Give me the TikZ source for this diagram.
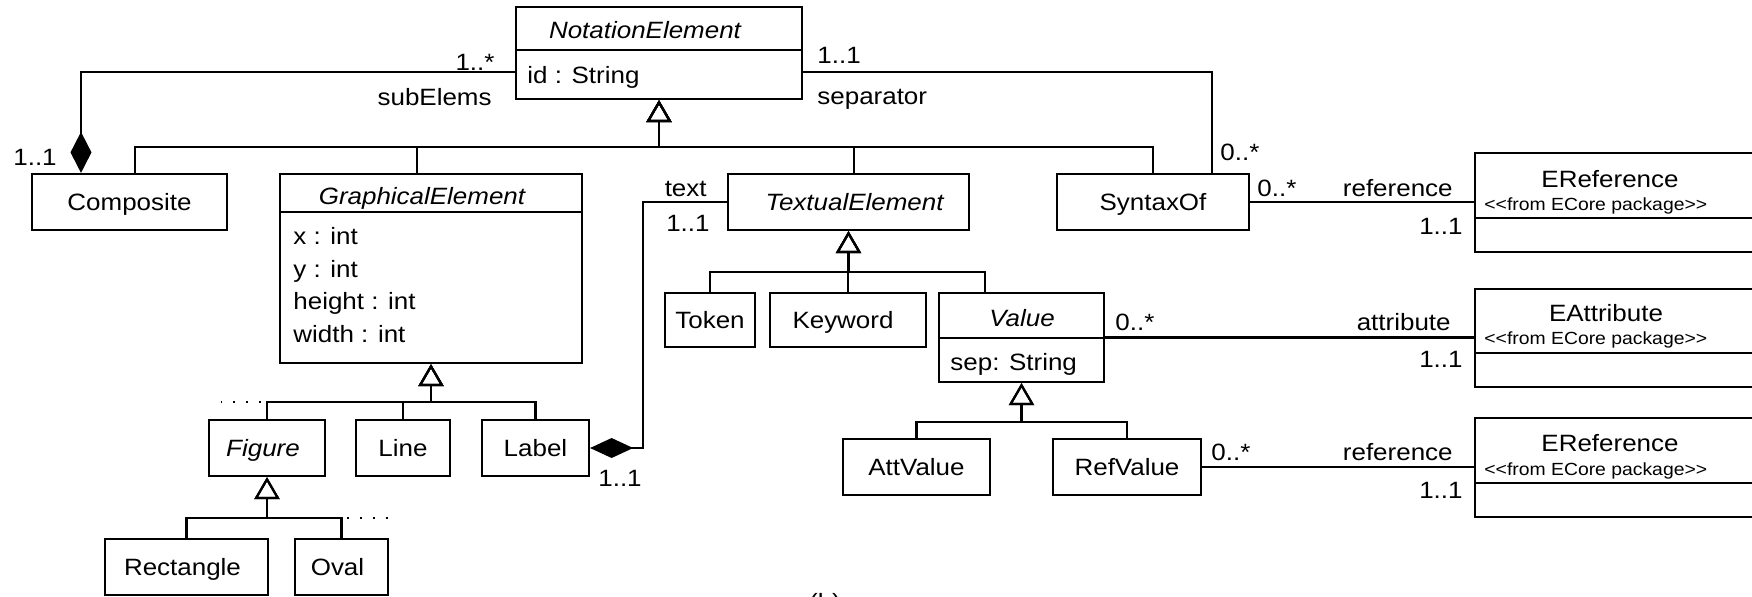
\documentclass[tikz,border=0pt]{standalone}
\usepackage{fontspec}
\setmainfont{Liberation Sans}[FakeStretch=1.1]
\usetikzlibrary{arrows.meta,fit}
\tikzset{
  t/.style={inner sep=0pt, text height=8.45pt, text depth=0pt, font=\fontsize{11.8}{14}\selectfont},
  ti/.style={t, font=\fontsize{11.8}{14}\selectfont\itshape},
  st/.style={inner sep=0pt, text height=6.3pt, text depth=0pt, font=\fontsize{8.8}{10}\selectfont},
  cls/.style={draw, line width=1.1pt, inner sep=0pt, fill=white},
  edge/.style={draw, line width=1.1pt, line join=miter},
  gen/.style={edge, -{Triangle[open, length=11pt, width=12.5pt]}},
  comp/.style={edge, {Diamond[length=20.5pt, width=10.5pt]}-},
  dotrow/.style={line width=1.1pt, dash pattern=on 1.1pt off 5.4pt},
}
\begin{document}
\begin{tikzpicture}[x=0.5pt,y=-0.5pt]
\useasboundingbox (0,0) rectangle (1752,596);
\clip (0,0) rectangle (1752,596);

% ---------- classes ----------
\node[cls, fit={(516,7)(802,99)}] (notation) {};
\draw[edge] (516,50) -- (802,50);
\node[ti] (notationT) at (645,30) {NotationElement};
\node[t, anchor=west] (notationA) at (527,75) {id : String};

\node[cls, fit={(32,174)(227,230)}] (composite) {};
\node[t] (compositeT) at (composite.center) {Composite};

\node[cls, fit={(280,174)(582,363)}] (graphical) {};
\draw[edge] (280,212) -- (582,212);
\node[ti] (graphicalT) at (422,196) {GraphicalElement};
\node[t, anchor=west] (ga1) at (293,236) {x : int};
\node[t, anchor=west] (ga2) at (293,269) {y : int};
\node[t, anchor=west] (ga3) at (293,301) {height : int};
\node[t, anchor=west] (ga4) at (293,334) {width : int};

\node[cls, fit={(728,174)(969,230)}] (textual) {};
\node[ti] (textualT) at ([xshift=3pt]textual.center) {TextualElement};
\node[cls, fit={(1057,174)(1249,230)}] (syntaxof) {};
\node[t] (syntaxofT) at (syntaxof.center) {SyntaxOf};

\node[cls, fit={(1475,153)(1760,252)}] (erefA) {};
\draw[edge] (1475,218) -- (1760,218);
\node[t] (erefAT) at (1610,179) {EReference};
\node[st, anchor=west] (erefAS) at (1484,204) {<\kern0pt<from ECore package>\kern0pt>};

\node[cls, fit={(665,293)(755,347)}] (token) {};
\node[t] (tokenT) at (token.center) {Token};
\node[cls, fit={(770,293)(926,347)}] (keyword) {};
\node[t] (keywordT) at ([xshift=-2.5pt]keyword.center) {Keyword};

\node[cls, fit={(939,293)(1104,382)}] (value) {};
\draw[edge] (939,338) -- (1104,338);
\node[ti] (valueT) at (1022,318) {Value};
\node[t, anchor=west] (valueA) at (950,362) {sep: String};

\node[cls, fit={(1475,289)(1760,387)}] (eattr) {};
\draw[edge] (1475,353) -- (1760,353);
\node[t] (eattrT) at (1606,313) {EAttribute};
\node[st, anchor=west] (eattrS) at (1484,338) {<\kern0pt<from ECore package>\kern0pt>};

\node[cls, fit={(209,420)(325,476)}] (figure) {};
\node[ti] (figureT) at ([xshift=-2pt]figure.center) {Figure};
\node[cls, fit={(356,420)(450,476)}] (line) {};
\node[t] (lineT) at (line.center) {Line};
\node[cls, fit={(482,420)(589,476)}] (label) {};
\node[t] (labelT) at (label.center) {Label};

\node[cls, fit={(843,439)(990,495)}] (attvalue) {};
\node[t] (attvalueT) at (attvalue.center) {AttValue};
\node[cls, fit={(1053,439)(1201,495)}] (refvalue) {};
\node[t] (refvalueT) at (refvalue.center) {RefValue};

\node[cls, fit={(1475,418)(1760,517)}] (erefB) {};
\draw[edge] (1475,483) -- (1760,483);
\node[t] (erefBT) at (1610,443) {EReference};
\node[st, anchor=west] (erefBS) at (1484,469) {<\kern0pt<from ECore package>\kern0pt>};

\node[cls, fit={(105,539)(268,595)}] (rectangle) {};
\node[t] (rectangleT) at ([xshift=-2pt]rectangle.center) {Rectangle};
\node[cls, fit={(295,539)(388,595)}] (oval) {};
\node[t] (ovalT) at ([xshift=-2pt]oval.center) {Oval};

\node[t, anchor=north] (caption) at (825,593) {(b)};

% ---------- generalizations ----------
\draw[gen] ([xshift=2.75pt]composite.north) -- ++(0,-26) -| (notation.south);
\draw[gen] ([xshift=-7pt]graphical.north) -- ++(0,-26) -| (notation.south);
\draw[gen] ([xshift=2.75pt]textual.north) -- ++(0,-26) -| (notation.south);
\draw[gen] (syntaxof.north) -- ++(0,-26) -| (notation.south);

\draw[gen] (token.north) -- ++(0,-20) -| (textual.south);
\draw[gen] (keyword.north) -- ++(0,-20) -| (textual.south);
\draw[gen] ([xshift=-18.25pt]value.north) -- ++(0,-20) -| (textual.south);

\draw[gen] (figure.north) -- ++(0,-17) -| (graphical.south);
\draw[gen] (line.north) -- ++(0,-17) -| (graphical.south);
\draw[gen] (label.north) -- ++(0,-17) -| (graphical.south);
\draw[dotrow] ([xshift=-3pt,yshift=8.5pt]figure.north) -- ++(-40,0);

\draw[gen] (rectangle.north) -- ++(0,-20) -| (figure.south);
\draw[gen] (oval.north) -- ++(0,-20) -| (figure.south);
\draw[dotrow] ([xshift=2.5pt,yshift=10pt]oval.north) -- ++(42,0);

\draw[gen] (attvalue.north) -- ++(0,-16) -| (value.south);
\draw[gen] (refvalue.north) -- ++(0,-16) -| (value.south);

% ---------- associations ----------
\draw[comp] ([xshift=-24.25pt]composite.north) |- ([yshift=-9.5pt]notation.west);
\node[t] (m1) at (475,62) {1..*};
\node[t, anchor=east] (r1) at (492,97) {subElems};
\node[t] (m2) at (35,157) {1..1};

\draw[edge] ([yshift=-9.5pt]notation.east) -| ([xshift=29.5pt]syntaxof.north);
\node[t, anchor=west] (m3) at (817,55) {1..1};
\node[t, anchor=west] (r2) at (817,96) {separator};
\node[t, anchor=west] (m4) at (1220,152) {0..*};

\draw[edge, {Diamond[length=21.5pt, width=10pt]}-] (label.east) -- ++(53,0) |- (textual.west);
\node[t, anchor=east] (r3) at (707,188) {text};
\node[t, anchor=east] (m5) at (710,223) {1..1};
\node[t] (m6) at (620,478) {1..1};

\draw[edge] (syntaxof.east) -- (syntaxof.east -| erefA.west);
\node[t, anchor=west] (m7) at (1257,188) {0..*};
\node[t, anchor=east] (r4) at (1453,188) {reference};
\node[t, anchor=east] (m8) at (1463,226) {1..1};

\draw[edge] (value.east) -- (value.east -| eattr.west);
\node[t, anchor=west] (m9) at (1115,322) {0..*};
\node[t, anchor=east] (r5) at (1451,322) {attribute};
\node[t, anchor=east] (m10) at (1463,359) {1..1};

\draw[edge] (refvalue.east) -- (refvalue.east -| erefB.west);
\node[t, anchor=west] (m11) at (1211,452) {0..*};
\node[t, anchor=east] (r6) at (1453,452) {reference};
\node[t, anchor=east] (m12) at (1463,490) {1..1};
\end{tikzpicture}
\end{document}
